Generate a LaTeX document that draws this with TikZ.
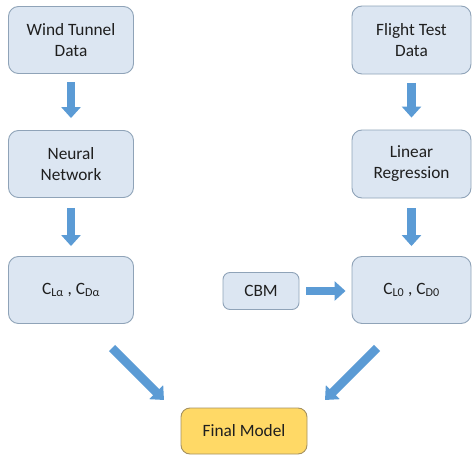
\documentclass[tikz,border=0pt]{standalone}
\usepackage{fontspec}
\setmainfont{Carlito}
\usetikzlibrary{arrows.meta}
\definecolor{boxfill}{HTML}{DCE6F2}
\definecolor{boxline}{HTML}{8FA3B8}
\definecolor{arrowblue}{HTML}{5B9BD5}
\definecolor{finalfill}{HTML}{FFD966}
\definecolor{finalline}{HTML}{A59160}
\definecolor{txt}{HTML}{1F1F1F}
\tikzset{
  stepbox/.style={draw=boxline, fill=boxfill, line width=0.9pt, rounded corners=10pt,
    align=center, text=txt, font=\fontsize{17.3}{21}\selectfont, inner sep=0pt},
  finalbox/.style={draw=finalline, fill=finalfill, line width=0.9pt, rounded corners=9pt,
    align=center, text=txt, font=\fontsize{17.3}{21}\selectfont, inner sep=0pt},
  blockarrow/.style={draw=arrowblue, line width=8.5pt, -{Triangle[length=11pt,width=19pt]}},
}
\begin{document}
\begin{tikzpicture}[x=1pt,y=1pt]
\useasboundingbox (0,0) rectangle (472,-455);
% left column
\node[stepbox, minimum width=125pt, minimum height=67pt] (wt) at (71,-40) {Wind Tunnel\\Data};
\node[stepbox, minimum width=125pt, minimum height=67pt] (nn) at (71,-164) {Neural\\Network};
\node[stepbox, minimum width=125pt, minimum height=67pt] (cla) at (71,-290) {C\textsubscript{Lα} , C\textsubscript{Dα}};
% right column
\node[stepbox, minimum width=119pt, minimum height=68pt] (ft) at (411.5,-40) {Flight Test\\Data};
\node[stepbox, minimum width=119pt, minimum height=68pt] (lr) at (411.5,-164) {Linear\\Regression};
\node[stepbox, minimum width=119pt, minimum height=67pt] (cl0) at (411.5,-290) {C\textsubscript{L0} , C\textsubscript{D0}};
% CBM
\node[stepbox, rounded corners=7pt, minimum width=76pt, minimum height=37pt] (cbm) at (261,-291) {CBM};
% final
\node[finalbox, minimum width=126pt, minimum height=46pt] (fm) at (244,-431) {Final Model};
% vertical arrows
\draw[blockarrow, shorten <=8.5pt, shorten >=12pt] (wt) -- (nn);
\draw[blockarrow, shorten <=10pt, shorten >=10pt] (nn) -- (cla);
\draw[blockarrow, shorten <=8.5pt, shorten >=12pt] (ft) -- (lr);
\draw[blockarrow, shorten <=10pt, shorten >=10pt] (lr) -- (cl0);
% CBM arrow
\draw[blockarrow, shorten <=7pt, shorten >=6pt] (cbm) -- (cbm -| cl0.west);
% diagonal arrows
\coordinate (la) at (112,-348);
\coordinate (lb) at (164,-400);
\coordinate (ra) at (377,-348);
\coordinate (rb) at (325,-400);
\draw[blockarrow] (la) -- (lb);
\draw[blockarrow] (ra) -- (rb);
\end{tikzpicture}
\end{document}
